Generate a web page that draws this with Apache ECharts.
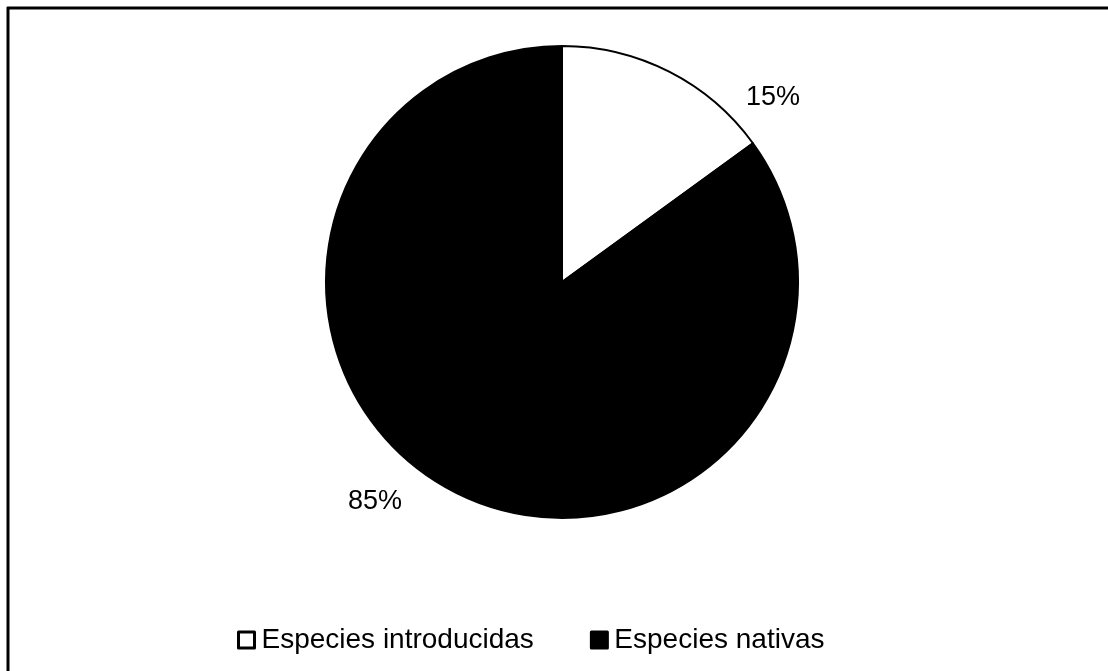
<!DOCTYPE html>
<html>
<head>
<meta charset="utf-8">
<style>
  html, body { margin: 0; padding: 0; background: #fff; }
  #chart { width: 1108px; height: 671px; }
</style>
<script src="https://cdn.jsdelivr.net/npm/echarts@6/dist/echarts.min.js"></script>
</head>
<body>
<div id="chart"></div>
<script>
// Share of species by origin
const categories = ['Especies introducidas', 'Especies nativas'];
const shares = [15, 85];
const sliceColors = ['#ffffff', '#000000'];
// Label anchor points (pixels) for each slice's percentage text
const labelSpots = [[773, 98], [375, 502]];

const chart = echarts.init(document.getElementById('chart'), null, { renderer: 'canvas' });

const FONT = 'Liberation Sans, Arial, sans-serif';

chart.setOption({
  backgroundColor: '#ffffff',
  animation: false,
  legend: {
    data: categories,
    left: 237,
    top: 626,
    padding: 0,
    icon: 'rect',
    itemWidth: 16,
    itemHeight: 16,
    itemGap: 56,
    textStyle: { fontFamily: FONT, fontSize: 28, color: '#000', padding: [0, 0, 0, 2] },
    itemStyle: { borderColor: '#000', borderWidth: 3 }
  },
  graphic: [
    { type: 'line', shape: { x1: 7, y1: 8, x2: 1108, y2: 8 }, style: { stroke: '#000', lineWidth: 3 } },
    { type: 'line', shape: { x1: 8, y1: 7, x2: 8, y2: 671 }, style: { stroke: '#000', lineWidth: 3 } }
  ],
  series: [{
    type: 'pie',
    center: [562, 282],
    radius: [0, 236],
    startAngle: 90,
    clockwise: true,
    data: categories.map((name, i) => ({
      name,
      value: shares[i],
      itemStyle: { color: sliceColors[i], borderColor: '#000', borderWidth: 2 }
    })),
    label: {
      show: true,
      formatter: '{d}%',
      fontFamily: FONT,
      fontSize: 27,
      color: '#000'
    },
    labelLine: { show: false },
    labelLayout: function (params) {
      const p = labelSpots[params.dataIndex];
      return { x: p[0], y: p[1], align: 'center', verticalAlign: 'middle' };
    },
    emphasis: { disabled: true }
  }]
});
</script>
</body>
</html>
